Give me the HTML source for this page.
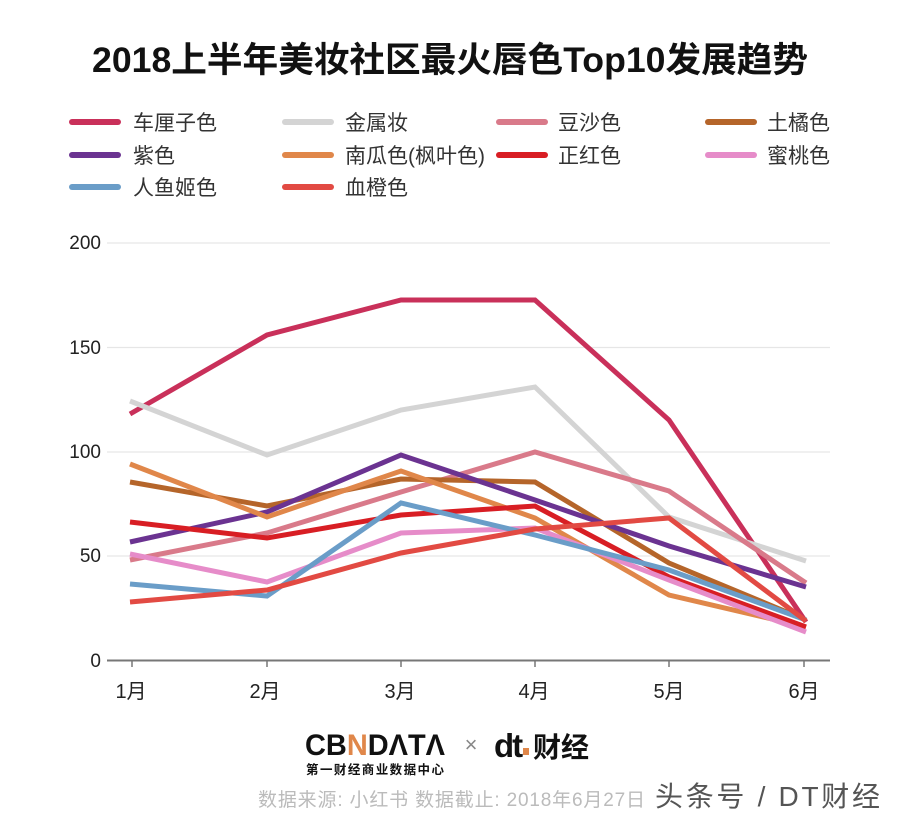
<!DOCTYPE html>
<html>
<head>
<meta charset="utf-8">
<style>
html,body{margin:0;padding:0;background:#fff;}
body{width:900px;height:822px;overflow:hidden;font-family:"Liberation Sans","Noto Sans CJK SC",sans-serif;}
</style>
</head>
<body>
<svg width="900" height="822" viewBox="0 0 900 822" xmlns="http://www.w3.org/2000/svg" style="display:block">
  <rect width="900" height="822" fill="#fff"/>
  <!-- Title -->
  <text x="450" y="72" text-anchor="middle" font-family="'Liberation Sans','Noto Sans CJK SC',sans-serif" font-weight="bold" font-size="35" fill="#111" textLength="716" lengthAdjust="spacingAndGlyphs">2018上半年美妆社区最火唇色Top10发展趋势</text>

  <!-- Legend -->
  <g font-family="'Liberation Sans','Noto Sans CJK SC',sans-serif" font-size="21" fill="#333" stroke-linecap="round">
    <line x1="72" y1="122" x2="118" y2="122" stroke="#c9305a" stroke-width="6"/>
    <text x="133" y="130">车厘子色</text>
    <line x1="285" y1="122" x2="331" y2="122" stroke="#d4d4d4" stroke-width="6"/>
    <text x="345" y="130">金属妆</text>
    <line x1="499" y1="122" x2="545" y2="122" stroke="#d97a8a" stroke-width="6"/>
    <text x="558" y="130">豆沙色</text>
    <line x1="708" y1="122" x2="754" y2="122" stroke="#b5652a" stroke-width="6"/>
    <text x="767" y="130">土橘色</text>

    <line x1="72" y1="155" x2="118" y2="155" stroke="#6b3391" stroke-width="6"/>
    <text x="133" y="163">紫色</text>
    <line x1="285" y1="155" x2="331" y2="155" stroke="#e0874a" stroke-width="6"/>
    <text x="345" y="163">南瓜色(枫叶色)</text>
    <line x1="499" y1="155" x2="545" y2="155" stroke="#d81e24" stroke-width="6"/>
    <text x="558" y="163">正红色</text>
    <line x1="708" y1="155" x2="754" y2="155" stroke="#e68cc9" stroke-width="6"/>
    <text x="767" y="163">蜜桃色</text>

    <line x1="72" y1="187" x2="118" y2="187" stroke="#6a9dc8" stroke-width="6"/>
    <text x="133" y="195">人鱼姬色</text>
    <line x1="285" y1="187" x2="331" y2="187" stroke="#e24a43" stroke-width="6"/>
    <text x="345" y="195">血橙色</text>
  </g>

  <!-- Grid -->
  <g stroke="#e6e6e6" stroke-width="1.2">
    <line x1="107" y1="243" x2="830" y2="243"/>
    <line x1="107" y1="347.5" x2="830" y2="347.5"/>
    <line x1="107" y1="452" x2="830" y2="452"/>
    <line x1="107" y1="556" x2="830" y2="556"/>
  </g>
  <!-- Y labels -->
  <g font-family="'Liberation Sans',sans-serif" font-size="19" fill="#222" text-anchor="end">
    <text x="101" y="249">200</text>
    <text x="101" y="354">150</text>
    <text x="101" y="458">100</text>
    <text x="101" y="562">50</text>
    <text x="101" y="667">0</text>
  </g>
  <!-- Axis -->
  <line x1="107" y1="660.5" x2="830" y2="660.5" stroke="#777" stroke-width="2"/>
  <g stroke="#777" stroke-width="1.5">
    <line x1="132" y1="660" x2="132" y2="667"/>
    <line x1="267" y1="660" x2="267" y2="667"/>
    <line x1="401" y1="660" x2="401" y2="667"/>
    <line x1="535" y1="660" x2="535" y2="667"/>
    <line x1="669" y1="660" x2="669" y2="667"/>
    <line x1="804" y1="660" x2="804" y2="667"/>
  </g>
  <g font-family="'Liberation Sans','Noto Sans CJK SC',sans-serif" font-size="20" fill="#222" text-anchor="middle">
    <text x="131" y="698">1月</text>
    <text x="265" y="698">2月</text>
    <text x="400" y="698">3月</text>
    <text x="534" y="698">4月</text>
    <text x="669" y="698">5月</text>
    <text x="804" y="698">6月</text>
  </g>

  <!-- Series -->
  <g fill="none" stroke-width="5" stroke-linejoin="miter" stroke-linecap="butt">
    <polyline stroke="#c9305a" points="130,414 267,335 401,300 535,300 669,420 806,622"/>
    <polyline stroke="#d4d4d4" points="130,401 267,455 401,410 535,387 669,517 806,561"/>
    <polyline stroke="#d97a8a" points="130,560 267,533 401,492 535,452 669,491 806,583"/>
    <polyline stroke="#b5652a" points="130,482 267,506 401,479 535,482 669,563 806,620"/>
    <polyline stroke="#6b3391" points="130,542 267,512 401,455 535,500 669,546 806,587"/>
    <polyline stroke="#e0874a" points="130,464 267,517 401,471 535,518 669,595 806,627"/>
    <polyline stroke="#d81e24" points="130,522 267,538 401,515 535,506 669,577 806,627"/>
    <polyline stroke="#e68cc9" points="130,554 267,582 401,533 535,528 669,580 806,632"/>
    <polyline stroke="#6a9dc8" points="130,584 267,596 401,503 535,535 669,570 806,620"/>
    <polyline stroke="#e24a43" points="130,602 267,590 401,553 535,529 669,518 806,621"/>
  </g>

  <!-- Footer logos -->
  <g font-family="'Liberation Sans','Noto Sans CJK SC',sans-serif" font-weight="bold">
    <text x="305" y="755" font-size="30" fill="#111" textLength="140" lengthAdjust="spacingAndGlyphs">CB<tspan fill="#e0874a">N</tspan>DΛTΛ</text>
    <text x="306" y="774" font-size="12.5" fill="#111" textLength="138" lengthAdjust="spacing">第一财经商业数据中心</text>
    <text x="471" y="752" font-size="22" font-weight="normal" fill="#888" text-anchor="middle">×</text>
    <text x="494" y="757" font-size="33" fill="#111" letter-spacing="-2">dt</text>
    <rect x="523" y="748" width="6" height="7" fill="#e0874a"/>
    <text x="533" y="757" font-size="28" fill="#111">财经</text>
  </g>
  <text x="258" y="806" font-family="'Liberation Sans','Noto Sans CJK SC',sans-serif" font-size="19" fill="#bbb" textLength="387" lengthAdjust="spacing">数据来源: 小红书 数据截止: 2018年6月27日</text>
  <text x="655" y="806" font-family="'Liberation Sans','Noto Sans CJK SC',sans-serif" font-size="28" fill="#555" textLength="225" lengthAdjust="spacing">头条号 / DT财经</text>
</svg>
</body>
</html>
